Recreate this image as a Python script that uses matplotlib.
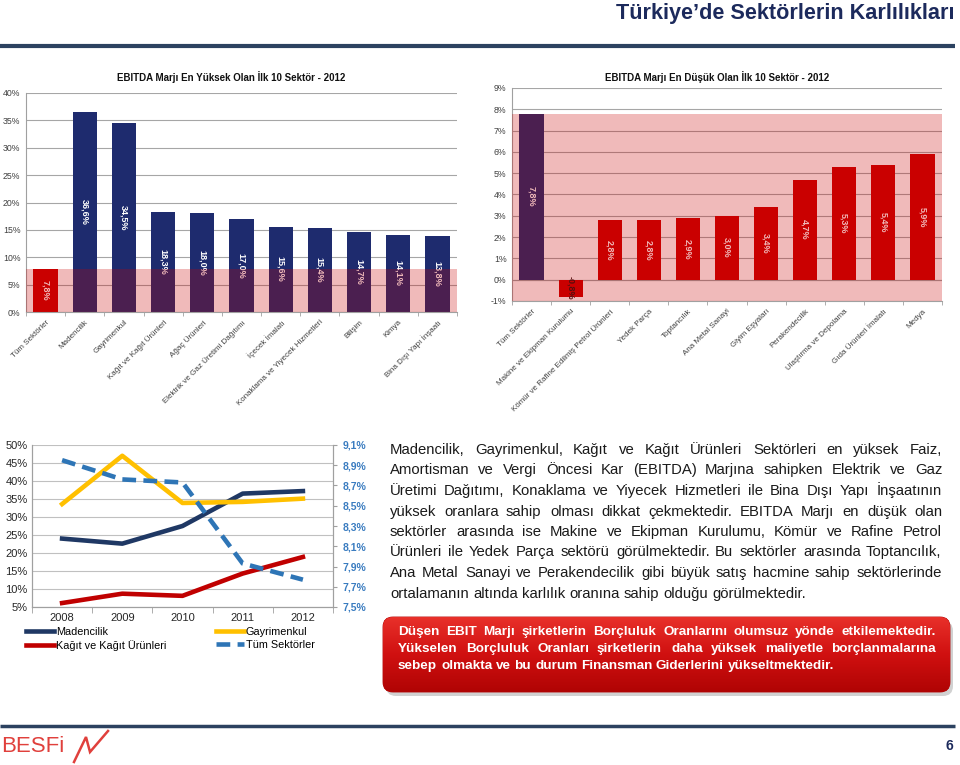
import matplotlib
matplotlib.use("Agg")
import matplotlib.pyplot as plt
from matplotlib.patches import FancyBboxPatch
from matplotlib.colors import LinearSegmentedColormap
import numpy as np

plt.rcParams["font.family"] = ["Liberation Sans", "DejaVu Sans"]

# ── Data ───────────────────────────────────────────────────────────────────────

high_sectors = [
    "Tüm Sektörler", "Madencilik", "Gayrimenkul", "Kağıt ve Kağıt Ürünleri",
    "Ağaç Ürünleri", "Elektrik ve Gaz Üretimi Dağıtımı", "İçecek İmalatı",
    "Konaklama ve Yiyecek Hizmetleri", "Bilişim", "Kimya", "Bina Dışı Yapı İnşaatı",
]
high_values = [7.8, 36.6, 34.5, 18.3, 18.0, 17.0, 15.6, 15.4, 14.7, 14.1, 13.8]

low_sectors = [
    "Tüm Sektörler", "Makine ve Ekipman Kurulumu",
    "Kömür ve Rafine Edilmiş Petrol Ürünleri", "Yedek Parça", "Toptancılık",
    "Ana Metal Sanayi", "Giyim Eşyaları", "Perakendecilik",
    "Ulaştırma ve Depolama", "Gıda Ürünleri İmalatı", "Medya",
]
low_values = [7.8, -0.8, 2.8, 2.8, 2.9, 3.0, 3.4, 4.7, 5.3, 5.4, 5.9]

avg_margin = 7.8

years = ["2008", "2009", "2010", "2011", "2012"]
madencilik = [24.0, 22.6, 27.5, 36.5, 37.2]
gayrimenkul = [33.6, 47.0, 33.9, 34.2, 35.1]
kagit = [6.1, 8.7, 8.1, 14.3, 18.9]
tum_sektorler = [8.95, 8.76, 8.73, 7.93, 7.77]

paragraph = [
    "Madencilik, Gayrimenkul, Kağıt ve Kağıt Ürünleri Sektörleri en yüksek Faiz,",
    "Amortisman ve Vergi Öncesi Kar (EBITDA) Marjına sahipken Elektrik ve Gaz",
    "Üretimi Dağıtımı, Konaklama ve Yiyecek Hizmetleri ile Bina Dışı Yapı İnşaatının",
    "yüksek oranlara sahip olması dikkat çekmektedir. EBITDA Marjı en düşük olan",
    "sektörler arasında ise Makine ve Ekipman Kurulumu, Kömür ve Rafine Petrol",
    "Ürünleri ile Yedek Parça sektörü görülmektedir. Bu sektörler arasında Toptancılık,",
    "Ana Metal Sanayi ve Perakendecilik gibi büyük satış hacmine sahip sektörlerinde",
    "ortalamanın altında karlılık oranına sahip olduğu görülmektedir.",
]
box_lines = [
    "Düşen EBIT Marjı şirketlerin Borçluluk Oranlarını olumsuz yönde etkilemektedir.",
    "Yükselen Borçluluk Oranları şirketlerin daha yüksek maliyetle borçlanmalarına",
    "sebep olmakta ve bu durum Finansman Giderlerini yükseltmektedir.",
]

# ── Layout helpers ─────────────────────────────────────────────────────────────

W, H = 960, 765
NAVY = "#1E2B6E"
RED = "#CC0000"

fig = plt.figure(figsize=(W / 100, H / 100), dpi=100)


def rect(left, top, right, bottom):
    return [left / W, 1 - bottom / H, (right - left) / W, (bottom - top) / H]


def pct(v, nd=1):
    return f"{v:.{nd}f}%".replace(".", ",")


# overlay axes in pixel coordinates for the slide decorations
bg = fig.add_axes([0, 0, 1, 1], zorder=-1)
bg.set_xlim(0, W)
bg.set_ylim(H, 0)
bg.axis("off")


# ── Bar panels ─────────────────────────────────────────────────────────────────

def bar_panel(box, names, values, colors, ylo, yhi, step, title, title_x, label_colors):
    ax = fig.add_axes(box)
    x = np.arange(len(values))
    ax.bar(x, values, width=0.62, color=colors, zorder=2, linewidth=0)
    for xi, v, lc in zip(x, values, label_colors):
        ax.text(xi, v / 2, pct(v), rotation=-90, ha="center", va="center",
                color=lc, fontsize=6.5, fontweight="bold", zorder=3)
    ax.axhspan(ylo, avg_margin, color="#C80000", alpha=0.27, lw=0, zorder=4)
    ax.set_xlim(-0.5, len(values) - 0.5)
    ax.set_ylim(ylo, yhi)
    ticks = np.arange(ylo, yhi + 0.001, step)
    ax.set_yticks(ticks)
    ax.set_yticklabels([f"{t:.0f}%" for t in ticks], fontsize=6.3, color="#404040")
    ax.yaxis.grid(True, color="#A6A6A6", lw=0.8)
    ax.set_axisbelow(True)
    ax.set_xticks(x)
    ax.set_xticklabels(names, rotation=45, ha="right", rotation_mode="anchor",
                       fontsize=5.8, color="#404040")
    ax.set_xticks(np.arange(len(values) + 1) - 0.5, minor=True)
    ax.tick_params(axis="x", which="major", length=0, pad=5)
    ax.tick_params(axis="x", which="minor", length=3, color="#A0A0A0")
    ax.tick_params(axis="y", length=0, pad=4)
    for s in ("top", "right"):
        ax.spines[s].set_visible(False)
    for s in ("left", "bottom"):
        ax.spines[s].set_color("#A0A0A0")
    ax.set_facecolor("none")
    fig.text(title_x / W, 1 - 77 / H, title, ha="center", va="center",
             fontsize=7, fontweight="bold", color="#111111")
    return ax


bar_panel(rect(26, 93, 457, 312), high_sectors, high_values,
          [RED] + [NAVY] * 10, 0, 40, 5,
          "EBITDA Marjı En Yüksek Olan İlk 10 Sektör - 2012", 231,
          ["white"] * 11)

ax_low = bar_panel(rect(512, 88, 942, 301), low_sectors, low_values,
                   [NAVY] + [RED] * 10, -1, 9, 1,
                   "EBITDA Marjı En Düşük Olan İlk 10 Sektör - 2012", 717,
                   ["white", "#2A1414"] + ["white"] * 9)
ax_low.axhline(0, color="#A0A0A0", lw=0.8, zorder=1)

# ── Line panel ─────────────────────────────────────────────────────────────────

ax3 = fig.add_axes(rect(32, 445, 333, 607))
x = np.arange(len(years))
lw = 3.3
l_mad, = ax3.plot(x, madencilik, color="#1F3864", lw=lw, label="Madencilik")
l_gay, = ax3.plot(x, gayrimenkul, color="#FFC000", lw=lw, label="Gayrimenkul")
l_kag, = ax3.plot(x, kagit, color="#C00000", lw=lw, label="Kağıt ve Kağıt Ürünleri")
ax3.set_xlim(-0.5, len(years) - 0.5)
ax3.set_ylim(5, 50)
ax3.set_yticks(np.arange(5, 51, 5))
ax3.set_yticklabels([f"{t}%" for t in range(5, 51, 5)], fontsize=8, color="#262626")
ax3.yaxis.grid(True, color="#C0C0C0", lw=0.8)
ax3.set_axisbelow(True)
ax3.set_xticks(x)
ax3.set_xticklabels(years, fontsize=8, color="#262626")
ax3.set_xticks(np.arange(len(years) + 1) - 0.5, minor=True)
ax3.tick_params(axis="x", which="major", length=0, pad=4)
ax3.tick_params(axis="x", which="minor", length=4, color="#A0A0A0")
ax3.tick_params(axis="y", length=0, pad=3)
ax3.spines["top"].set_visible(False)
for s in ("left", "bottom", "right"):
    ax3.spines[s].set_color("#A0A0A0")

ax3b = ax3.twinx()
l_tum, = ax3b.plot(x, tum_sektorler, color="#2E75B6", lw=lw,
                   ls=(0, (3, 1.6)), label="Tüm Sektörler")
ax3b.set_ylim(7.5, 9.1)
rticks = np.arange(7.5, 9.11, 0.2)
ax3b.set_yticks(rticks)
ax3b.set_yticklabels([pct(t) for t in rticks], fontsize=7.5,
                     fontweight="bold", color="#3A7CC0")
ax3b.tick_params(axis="y", length=3, color="#A0A0A0", pad=4)
ax3b.spines["top"].set_visible(False)
for s in ("left", "bottom", "right"):
    ax3b.spines[s].set_color("#A0A0A0")

ax3b.legend(handles=[l_mad, l_kag, l_gay, l_tum], ncol=2, loc="upper left",
            bbox_to_anchor=(26 / W, 1 - 627 / H), bbox_transform=fig.transFigure,
            frameon=False, fontsize=7.8, handlelength=2.6, handletextpad=0.15,
            columnspacing=4.6, labelspacing=0.25, borderpad=0, borderaxespad=0)

# ── Slide decorations ──────────────────────────────────────────────────────────

fig.text(955 / W, 1 - 14 / H, "Türkiye’de Sektörlerin Karlılıkları", ha="right",
         va="center", fontsize=15.6, fontweight="bold", color="#1C2A5C")
bg.plot([0, 955], [45.5, 45.5], color="#2C4260", lw=3, solid_capstyle="butt")
bg.plot([0, 955], [726, 726], color="#2C4260", lw=2.5, solid_capstyle="butt")
bg.text(953, 746, "6", ha="right", va="center", fontsize=10,
        fontweight="bold", color="#1C2A5C")
bg.text(1, 746, "BESFi", ha="left", va="center", fontsize=16, color="#E0403C")
bg.plot([74, 86, 90, 108], [762, 737, 752, 731], color="#E0403C", lw=1.8,
        solid_joinstyle="miter")

renderer = fig.canvas.get_renderer()


def justified(lines, x0, x1, y0, dy, **kw):
    # one Text per word, gaps spread so every full line runs from x0 to x1;
    # baselines kept on whole pixels so Agg's rounding keeps words level
    for i, line in enumerate(lines):
        y = round(y0 + i * dy)
        words = line.split()
        items = [bg.text(0, y, w, ha="left", va="baseline", **kw) for w in words]
        prop = items[0].get_fontproperties()
        widths = [t.get_window_extent(renderer).width for t in items]
        if i == len(lines) - 1:
            gap = (renderer.get_text_width_height_descent("a a", prop, False)[0]
                   - renderer.get_text_width_height_descent("aa", prop, False)[0])
        else:
            gap = (x1 - x0 - sum(widths)) / (len(words) - 1)
        xp = x0
        for t, wd in zip(items, widths):
            t.set_x(round(xp))
            xp += wd + gap


justified(paragraph, 390, 942, 454, 20.5, fontsize=10.7, color="#1A1A1A")

# red call-out box with a soft shadow and vertical gradient
bx, by, bw, bh = 383, 617, 567, 75
shadow = FancyBboxPatch((bx + 3, by + 4), bw, bh,
                        boxstyle="round,pad=0,rounding_size=10",
                        facecolor="#000000", alpha=0.18, lw=0)
bg.add_patch(shadow)
box = FancyBboxPatch((bx, by), bw, bh, boxstyle="round,pad=0,rounding_size=10",
                     facecolor="#CC0A0A", edgecolor="#B00000", lw=0.6)
bg.add_patch(box)
grad = np.linspace(0, 1, 100).reshape(-1, 1)
cmap = LinearSegmentedColormap.from_list("redbox", ["#E8302A", "#D01010", "#B00404"])
img = bg.imshow(grad, cmap=cmap, aspect="auto",
                extent=(bx, bx + bw, by + bh, by), zorder=2)
img.set_clip_path(box)
bg.set_xlim(0, W)
bg.set_ylim(H, 0)

justified(box_lines, 398, 936, 635, 17, fontsize=9.7, fontweight="bold",
          color="white", zorder=3)

fig.savefig("out.png", dpi=100)
